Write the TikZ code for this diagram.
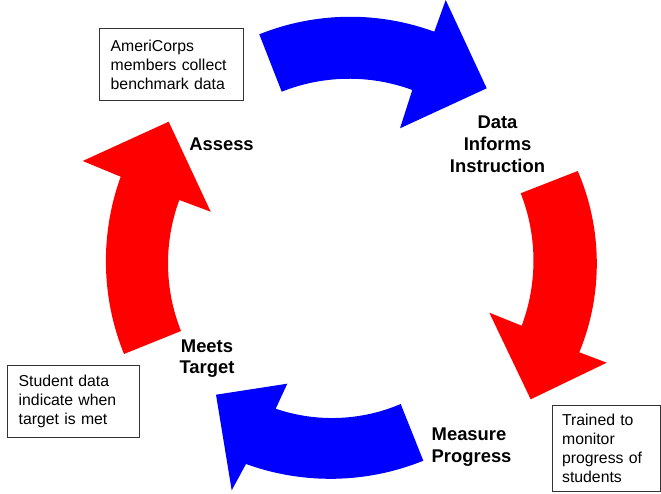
\documentclass[tikz,border=0pt]{standalone}
\usepackage{fontspec}
\setmainfont{Liberation Sans}
\usetikzlibrary{positioning}
\definecolor{cycleblue}{RGB}{0,0,255}
\definecolor{cyclered}{RGB}{255,0,0}
\pgfmathsetmacro{\rimbend}{21}
\tikzset{
	outerrim/.style={bend left=\rimbend, looseness=.88},
	innerrim/.style={bend right=\rimbend, looseness=.88},
	notebox/.style={draw=black!80, line width=.8pt, anchor=north west, align=left,
		inner xsep=11pt, inner ysep=0pt, font=\fontsize{15.8}{19}\selectfont},
	steplabel/.style={inner sep=0pt, align=center, font=\fontsize{18.4}{21.7}\selectfont\bfseries},
}

\begin{document}
\begin{tikzpicture}[x=1pt, y=1pt]
		\useasboundingbox (0,0) rectangle (661,493);
		% arrows of the cycle
		\fill[cycleblue] (259.3,458.7) to[outerrim] (434.3,461.3) -- (445.7,493) -- (486.7,404.7) -- (400,364.7) -- (412.3,403) to[innerrim] (281.7,401.3) -- cycle;
		\fill[cyclered] (577.7,322) to[outerrim, bend left=23] (579.3,140.7) -- (606.7,130.3) -- (530.7,93.7) -- (489.3,180.3) -- (521.7,167.3) to[innerrim] (520.7,299.7) -- cycle;
		\fill[cycleblue] (423.3,32.3) to[outerrim] (246,29) -- (231.7,2.7) -- (216,98.3) -- (287.3,109.3) -- (275.7,84.3) to[innerrim] (400.7,89) -- cycle;
		\fill[cyclered] (124,139) to[outerrim] (120.7,316.3) -- (82.7,332) -- (168.7,371.3) -- (210.7,281.3) -- (179.3,293) to[innerrim] (181,162) -- cycle;
		% step labels
		\node[steplabel] (assess) at (221.5,348.7) {Assess};
		\node[steplabel] (informs) at (497.5,348.6) {Data\\Informs\\Instruction};
		\node[steplabel, align=left, anchor=west] (measure) at (431.5,46.1) {Measure\\Progress};
		\node[steplabel] (meets) at (207,134.4) {Meets\\Target};
		% notes
		\node[notebox, text width=122pt, minimum height=71.7pt] (collect) at (99.3,464.7) {AmeriCorps\\members collect\\benchmark data};
		\node[notebox, text width=110pt, minimum height=72.3pt] (studentdata) at (7.3,128) {Student data\\indicate when\\target is met};
		\node[notebox, inner xsep=10pt, text width=87.8pt, minimum height=86pt] (trained) at (551.7,88) {Trained to\\monitor\\progress of\\students};
	\end{tikzpicture}
\end{document}
